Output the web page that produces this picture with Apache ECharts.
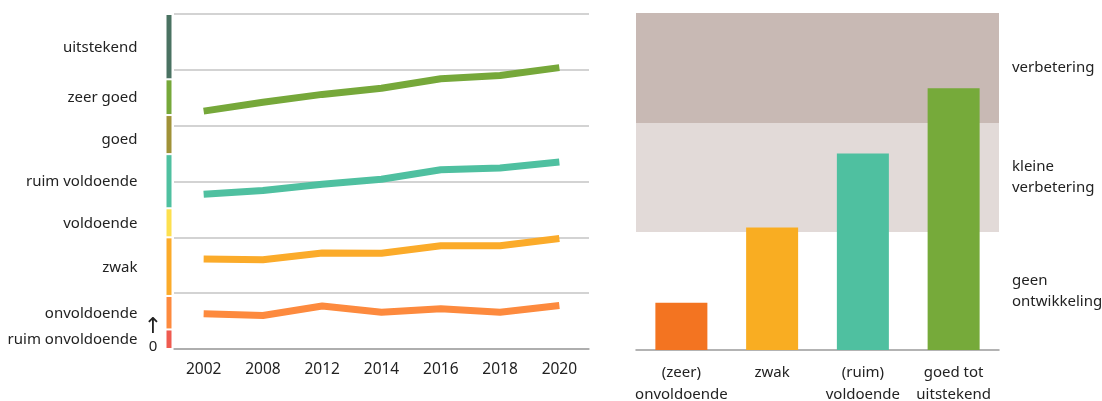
<!DOCTYPE html>
<html>
	<head>
		<meta charset="UTF-8">
		<title>Ontwikkeling</title>
		<script src="https://cdn.jsdelivr.net/npm/echarts@6/dist/echarts.min.js"></script>
		<style>
			html, body { margin: 0; padding: 0; background: #fff; }
			#main { width: 1102px; height: 401px; }
		</style>
	</head>
	<body>
		<div id="main"></div>
		<script type="text/javascript">
			// linker grafiek: jaren en niveaus
			var years = ['2002', '2008', '2012', '2014', '2016', '2018', '2020'];
			var lineGreen = [4.26, 4.42, 4.56, 4.67, 4.84, 4.90, 5.04];
			var lineTeal = [2.77, 2.84, 2.95, 3.04, 3.21, 3.24, 3.35];
			var lineOrange = [1.61, 1.60, 1.72, 1.715, 1.85, 1.85, 1.98];
			var lineRed = [0.63, 0.60, 0.77, 0.66, 0.72, 0.66, 0.78];

			// schaal aan de linkerkant (van onder naar boven)
			var levelNames = ['ruim onvoldoende', 'onvoldoende', 'zwak', 'voldoende', 'ruim voldoende', 'goed', 'zeer goed', 'uitstekend'];
			var levelSizes = [0.35, 0.60, 1.05, 0.52, 0.97, 0.70, 0.64, 1.17];
			var levelColors = ['#ef5b50', '#fd8a3e', '#fbab2a', '#fde04f', '#4fc0a0', '#a09238', '#76a83a', '#4a7262'];

			// rechter grafiek
			var groups = ['(zeer)\nonvoldoende', 'zwak', '(ruim)\nvoldoende', 'goed tot\nuitstekend'];
			var groupValues = [0.42, 1.09, 1.75, 2.33];
			var groupColors = ['#f37421', '#f9ad22', '#4fc0a0', '#76aa3a'];
			var bandNames = ['geen\nontwikkeling', 'kleine\nverbetering', 'verbetering'];
			var bandLimits = [0, 1.05, 2.02, 3];
			var bandColors = ['rgba(0,0,0,0)', '#e2dad8', '#c8b9b4'];

			var font = 'Noto Sans';
			var myChart = echarts.init(document.getElementById('main'));

			var series = [];
			// gekleurde schaalbalk met labels
			for (var i = 0; i < levelNames.length; i++) {
				series.push({
					name: levelNames[i],
					type: 'bar',
					stack: 'schaal',
					xAxisIndex: 0,
					yAxisIndex: 0,
					barWidth: 7,
					data: [levelSizes[i]],
					itemStyle: { color: levelColors[i], borderColor: '#fff', borderWidth: 1 },
					label: {
						show: true,
						position: 'left',
						distance: 28,
						offset: levelNames[i] === 'goed' ? [0, 5] : [0, 1],
						formatter: '{a}',
						color: '#222',
						fontSize: 15,
						fontFamily: font
					},
					silent: true
				});
			}

			var lines = [lineGreen, lineTeal, lineOrange, lineRed];
			var lineColors = ['#76a83a', '#4fc0a0', '#fbab2a', '#fd8a3e'];
			for (var j = 0; j < lines.length; j++) {
				series.push({
					type: 'line',
					xAxisIndex: 1,
					yAxisIndex: 1,
					data: lines[j],
					symbol: 'none',
					lineStyle: { color: lineColors[j], width: 7 },
					silent: true
				});
			}

			var areas = [];
			for (var k = 0; k < bandNames.length; k++) {
				areas.push([{
					yAxis: bandLimits[k],
					itemStyle: { color: bandColors[k] },
					label: {
						show: true,
						position: 'right',
						distance: 13,
						formatter: bandNames[k],
						color: '#222',
						fontSize: 15,
						lineHeight: 21,
						fontFamily: font
					}
				}, { yAxis: bandLimits[k + 1] }]);
			}

			series.push({
				type: 'bar',
				xAxisIndex: 2,
				yAxisIndex: 2,
				barWidth: 52,
				data: groupValues.map(function(v, idx) {
					return { value: v, itemStyle: { color: groupColors[idx] } };
				}),
				markArea: { silent: true, data: areas },
				z: 3,
				silent: true
			});

			var option = {
				animation: false,
				grid: [
					{ left: 165, width: 8, top: 14, bottom: 52, outerBoundsMode: 'none' },
					{ left: 174, right: 513, top: 14, bottom: 52, outerBoundsMode: 'none' },
					{ left: 636, right: 103, top: 13, bottom: 51, outerBoundsMode: 'none' }
				],
				xAxis: [{
					gridIndex: 0,
					type: 'category',
					data: [''],
					show: false
				}, {
					gridIndex: 1,
					type: 'category',
					data: years,
					axisLine: { lineStyle: { color: '#a3a3a3', width: 1.5 } },
					axisTick: { alignWithLabel: true, inside: true, length: 8, lineStyle: { color: '#b8b8b8', width: 1.5 } },
					axisLabel: { color: '#222', fontSize: 15.5, fontFamily: font, margin: 13 }
				}, {
					gridIndex: 2,
					type: 'category',
					data: groups,
					axisLine: { lineStyle: { color: '#9a9a9a', width: 1.5 } },
					axisTick: { show: false },
					axisLabel: { color: '#222', fontSize: 15, lineHeight: 22, fontFamily: font, margin: 12, interval: 0 }
				}],
				yAxis: [{
					gridIndex: 0,
					type: 'value',
					min: 0,
					max: 6,
					show: false
				}, {
					gridIndex: 1,
					type: 'value',
					min: 0,
					max: 6,
					interval: 1,
					axisLabel: { show: false },
					axisLine: { show: false },
					axisTick: { show: false },
					splitLine: { lineStyle: { color: '#c4c4c4', width: 1.5 } }
				}, {
					gridIndex: 2,
					type: 'value',
					min: 0,
					max: 3,
					show: false,
					splitLine: { show: false }
				}],
				graphic: [
					{ type: 'text', x: 153, y: 327, style: { text: '↑', fill: '#222', font: '22px "DejaVu Sans"', align: 'center', verticalAlign: 'middle' } },
					{ type: 'text', x: 153, y: 347, style: { text: '0', fill: '#222', font: '15px "Noto Sans"', align: 'center', verticalAlign: 'middle' } }
				],
				series: series
			};

			myChart.setOption(option);
		</script>
	</body>
</html>
